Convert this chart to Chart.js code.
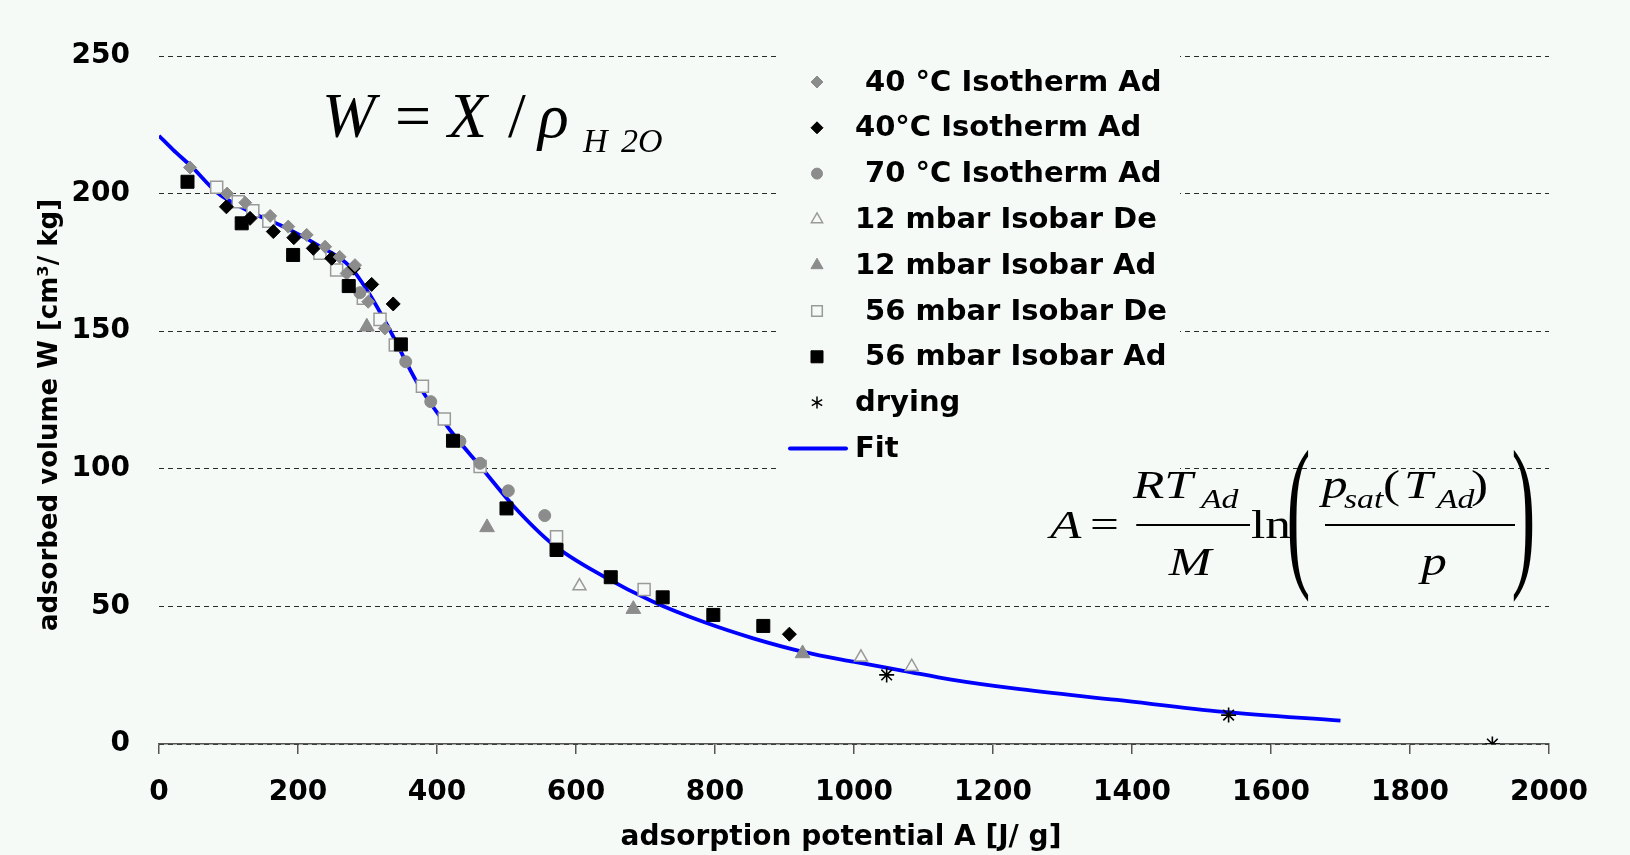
<!DOCTYPE html>
<html><head><meta charset="utf-8">
<script src="https://cdn.jsdelivr.net/npm/chart.js@4.4.1/dist/chart.umd.min.js"></script>
<style>
html,body{margin:0;padding:0;background:#f6faf7;}
#wrap{position:relative;width:1630px;height:855px;overflow:hidden;background:#f6faf7;}
#c{position:absolute;left:0;top:0;}
.f{position:absolute;white-space:pre;line-height:1;font-family:'Liberation Serif','Times New Roman',serif;color:#000;}
#fw{position:absolute;left:0;top:0;width:1630px;height:855px;}
#fa{position:absolute;left:1050px;top:0;width:420px;height:855px;transform:scaleX(1.25);transform-origin:0 0;}
.bar{position:absolute;height:2px;background:#000;}
</style></head><body>
<div id="wrap"><canvas id="c" width="1630" height="855"></canvas><div id="fw"></div><div id="fa"></div></div>
<script>
// ---- data (A in J/g, W in cm3/kg) ----
const iso40Gray = [[44.6,209.5],[98,200],[124,196.7],[160,191.9],[186,188],[212.5,185],[239,180.7],[260,177],[270,171],[282,174],[301,160.7],[325,151]];
const iso40Black = [[97,195.2],[131,191],[164.5,186.2],[194,184],[222,180.1],[248.5,176.5],[279.6,172.9],[306,167],[337,159.9],[907,39.9]];
const iso70 = [[289,164],[355,138.9],[391,124.4],[433,110],[462,102],[502.6,92],[555,83]];
const iso12De = [[605,57.4],[1010,31.5],[1083,28.1]];
const iso12Ad = [[299,151.6],[472,78.7],[682.5,49],[926,32.9]];
const iso56De = [[83,202.3],[114,197],[135,193.8],[158,190],[231.6,178.3],[255.6,172.2],[294,162],[318,154.3],[340,145],[379,130],[410.5,118.1],[462,100.8],[572,75.3],[698,56.1]];
const iso56Ad = [[41,204.3],[119,189.2],[193,177.7],[273,166.4],[348,145.2],[423,110.2],[500,85.6],[572,70.5],[650,60.6],[724.7,53.3],[797.6,46.9],[869.5,42.9]];
const drying = [[1047,25.1],[1539,10.5],[1918.5,0]];
const fitA = [0,20,48,83,131,179,227,275,304,332,371,419,462,510,567,639,711,783,855,927,999,1071,1140,1230,1379,1532,1700];
const fitW = [221,216,209.5,200.5,193.4,188,181.5,173.4,163,150.5,131.5,114,101,86.5,72.5,61,51.7,44.4,38.4,33.5,29.9,26.6,23.4,20.2,16,11.7,8.5];
const seriesLabels = [' 40 °C Isotherm Ad','40°C Isotherm Ad',' 70 °C Isotherm Ad','12 mbar Isobar De','12 mbar Isobar Ad',' 56 mbar Isobar De',' 56 mbar Isobar Ad','drying','Fit'];
const xTitle = 'adsorption potential A [J/ g]';
const yTitle = 'adsorbed volume W [cm³/ kg]';
const xTicks = {min:0,max:2000,step:200};
const yTicks = {min:0,max:250,step:50};

const BG = '#f6faf7', GRAY = '#8c8c8c', OPEN = '#9a9a9a', BLUE = '#0000ff';
const xy = p => p.map(([x,y]) => ({x,y}));

const styles = [
  {ps:'rectRot', r:6.5, bg:GRAY, bc:GRAY, bw:1},
  {ps:'rectRot', r:7, bg:'#000', bc:'#000', bw:1},
  {ps:'circle', r:6, bg:GRAY, bc:GRAY, bw:1},
  {ps:'triangle', r:7.5, bg:BG, bc:OPEN, bw:1.5},
  {ps:'triangle', r:8.5, bg:GRAY, bc:GRAY, bw:1},
  {ps:'rect', r:8.5, bg:BG, bc:OPEN, bw:1.5},
  {ps:'rect', r:9.2, bg:'#000', bc:'#000', bw:1},
  {ps:'star', r:7.5, bg:'#000', bc:'#000', bw:1.6},
];
const seriesData = [iso40Gray, iso40Black, iso70, iso12De, iso12Ad, iso56De, iso56Ad, drying];
const datasets = seriesData.map((d,i)=>({
  label: seriesLabels[i], data: xy(d), pointStyle: styles[i].ps, pointRadius: styles[i].r,
  backgroundColor: styles[i].bg, borderColor: styles[i].bc, borderWidth: styles[i].bw,
  showLine:false, order: i===6?0:(i===5?3:1)
}));
datasets.push({label: seriesLabels[8], data: fitA.map((a,i)=>({x:a,y:fitW[i]})), showLine:true, pointRadius:0,
  borderColor:BLUE, backgroundColor:BLUE, borderWidth:3.8, cubicInterpolationMode:'monotone', fill:false, order:10});

function drawMarker(ctx, st, x, y, r){
  ctx.save(); ctx.beginPath();
  if (st.ps==='rectRot'){ ctx.moveTo(x-r,y); ctx.lineTo(x,y-r); ctx.lineTo(x+r,y); ctx.lineTo(x,y+r); ctx.closePath(); }
  else if (st.ps==='circle'){ ctx.arc(x,y,r,0,Math.PI*2); }
  else if (st.ps==='triangle'){ for(let k=0;k<3;k++){const a=k*2*Math.PI/3; const px=x+Math.sin(a)*r, py=y-Math.cos(a)*r; k?ctx.lineTo(px,py):ctx.moveTo(px,py);} ctx.closePath(); }
  else if (st.ps==='rect'){ const s=r*Math.SQRT1_2; ctx.rect(x-s,y-s,2*s,2*s); }
  if (st.ps==='star'){
    ctx.strokeStyle=st.bc; ctx.lineWidth=1.5;
    for(let k=0;k<3;k++){const a=k*Math.PI/3+Math.PI/2; ctx.moveTo(x+Math.cos(a)*r,y+Math.sin(a)*r); ctx.lineTo(x-Math.cos(a)*r,y-Math.sin(a)*r);}
    ctx.stroke();
  } else {
    ctx.fillStyle=st.bg; ctx.fill(); ctx.strokeStyle=st.bc; ctx.lineWidth=st.bw; ctx.stroke();
  }
  ctx.restore();
}

const bgPlugin = {id:'bg', beforeDraw(chart){const c=chart.ctx; c.save(); c.fillStyle=BG; c.fillRect(0,0,chart.width,chart.height); c.restore();}};
const legendPlugin = {id:'legendBox', beforeDatasetsDraw(chart){
  const ctx = chart.ctx; ctx.save();
  ctx.fillStyle = BG; ctx.fillRect(779, 40, 401, 445);
  ctx.font = 'bold 29px "DejaVu Sans"'; ctx.textBaseline = 'middle'; ctx.textAlign='left';
  const legR = [6,6,5.5,6.5,7,7.5,8.5,6];
  seriesLabels.forEach((lab,i)=>{
    const y = 82 + i*45.8;
    if (i<8) drawMarker(ctx, styles[i], 817, y, legR[i]);
    else { ctx.strokeStyle=BLUE; ctx.lineWidth=4; ctx.lineCap='round'; ctx.beginPath(); ctx.moveTo(790,y); ctx.lineTo(846,y); ctx.stroke(); }
    ctx.fillStyle='#000'; ctx.fillText(lab, 855, y+1);
  });
  ctx.restore();
}};
const axisTitlePlugin = {id:'axisTitles', afterDraw(chart){
  const ctx = chart.ctx; ctx.save(); ctx.fillStyle='#000';
  ctx.textAlign='center'; ctx.textBaseline='middle';
  ctx.font = 'bold 28px "DejaVu Sans"';
  ctx.fillText(xTitle, 841, 838);
  ctx.translate(50, 415); ctx.rotate(-Math.PI/2);
  ctx.font = 'bold 26px "DejaVu Sans"';
  ctx.fillText(yTitle, 0, 0);
  ctx.restore();
}};

const tickFont = {family:'"DejaVu Sans"', weight:'bold', size:28};
new Chart(document.getElementById('c'), {
  type:'scatter',
  data:{datasets},
  options:{
    responsive:false, animation:false, devicePixelRatio:1,
    layout:{padding:{left:0,top:56,right:81,bottom:0}},
    plugins:{legend:{display:false}, tooltip:{enabled:false}},
    scales:{
      x:{type:'linear', min:xTicks.min, max:xTicks.max,
        ticks:{stepSize:xTicks.step, font:tickFont, color:'#000', padding:22, maxRotation:0, autoSkip:false, callback:v=>String(v)},
        grid:{drawOnChartArea:false, drawTicks:true, tickLength:10, color:'#555', lineWidth:1.5},
        border:{display:true, color:'#555', width:1.5},
        title:{display:false, text:xTitle},
        afterFit(s){s.height=111;}
      },
      y:{type:'linear', min:yTicks.min, max:yTicks.max,
        ticks:{stepSize:yTicks.step, font:tickFont, color:'#000', padding:29, callback:v=>String(v)},
        grid:{color:'#2a2a2a', lineWidth:1, drawTicks:false},
        border:{display:false, dash:[5,4]},
        title:{display:false, text:yTitle},
        afterFit(s){s.width=159;}
      }
    }
  },
  plugins:[bgPlugin, legendPlugin, axisTitlePlugin]
});

// ---- formulas as real text ----
function put(parent, txt, x, bl, size, italic, center){
  const s = document.createElement('span'); s.className='f'; s.textContent=txt;
  s.style.fontSize=size+'px'; s.style.fontStyle=italic?'italic':'normal';
  s.style.left=x+'px'; s.style.top=(bl-0.8375*size)+'px';
  if (center) s.style.transform='translateX(-50%)';
  parent.appendChild(s); return s;
}
function bar(parent, x1, x2, y){ const b=document.createElement('div'); b.className='bar'; b.style.left=x1+'px'; b.style.width=(x2-x1)+'px'; b.style.top=(y-1)+'px'; parent.appendChild(b); }
const fw = document.getElementById('fw');
put(fw,'W',322,138,64,true);
put(fw,'=',395,138,64,false);
put(fw,'X',448,138,64,true);
put(fw,'/',508,138,64,false);
put(fw,'ρ',538,138,64,true);
put(fw,'H',583,152,34,true);
put(fw,'2',621,152,34,true);
put(fw,'O',638,152,34,true);

const fa = document.getElementById('fa');
put(fa,'A',0,538,41,true);
put(fa,'=',32,538,41,false);
bar(fa,68.8,160,525);
put(fa,'RT',66.4,498,41,true);
put(fa,'Ad',120.8,509,27,true);
put(fa,'M',112,575,41,true,true);
put(fa,'ln',160.8,538,41,false);
function bigParen(ch, x){
  const s = put(fa, ch, x, 535.25, 41, false);
  s.style.transformOrigin = '50% ' + (0.8375*41-10.25) + 'px';
  s.style.transform = 'scale(1.4,4.1)';
}
bigParen('(',192);
bar(fa,220,372,525);
put(fa,'p',217.6,498,41,true);
put(fa,'sat',235.2,509,27,true);
put(fa,'(',266.4,498,41,false);
put(fa,'T',283.2,498,41,true);
put(fa,'Ad',309.6,509,27,true);
put(fa,')',336.8,498,41,false);
put(fa,'p',307.2,575,41,true,true);
bigParen(')',372);
</script>
</body></html>
